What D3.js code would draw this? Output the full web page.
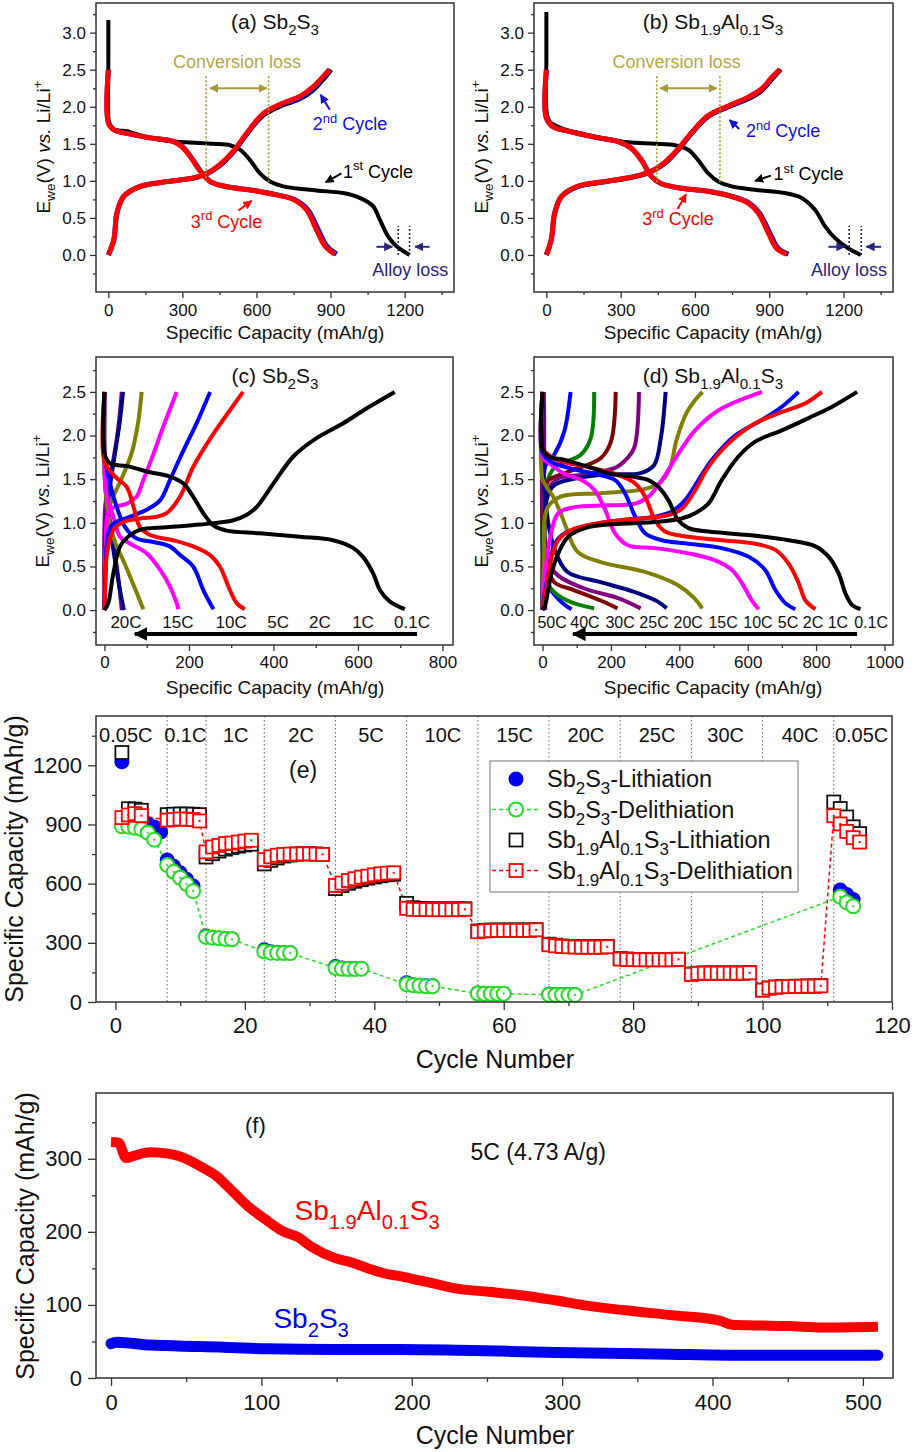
<!DOCTYPE html>
<html>
<head>
<meta charset="utf-8">
<script src="https://cdn.jsdelivr.net/npm/d3@7"></script>
<style>body{margin:0;background:#fff}</style>
</head>
<body>
<script>
const FONT = "'Liberation Sans', Arial, Helvetica, sans-serif";

// ---------- (a) Sb2S3, first three cycles [capacity, voltage] ----------
const aDis1 = [[0,3.17],[0,2.6],[0,1.85],[5,1.76],[15,1.71],[40,1.68],[75,1.67],[143,1.6],[237,1.54],[318,1.52],[426,1.5],[493,1.48],[533,1.42],[574,1.28],[614,1.1],[655,0.99],[708,0.925],[843,0.87],[951,0.835],[1018,0.77],[1072,0.66],[1099,0.48],[1133,0.25],[1166,0.12],[1220,0.0]];
const aChg1 = [[0,0],[22,0.2],[35,0.55],[62,0.78],[129,0.92],[237,0.99],[345,1.03],[399,1.09],[452,1.2],[506,1.38],[560,1.62],[628,1.88],[708,2.02],[776,2.1],[830,2.22],[875,2.38],[903,2.5]];
const aDis2 = [[0,2.5],[0,1.8],[22,1.69],[75,1.64],[170,1.58],[264,1.53],[300,1.46],[333,1.33],[374,1.13],[414,0.99],[482,0.92],[590,0.87],[685,0.81],[752,0.75],[808,0.61],[850,0.34],[885,0.12],[925,0.01]];
const aChg2 = [[0,0],[22,0.2],[35,0.57],[62,0.79],[129,0.925],[237,0.99],[345,1.04],[399,1.1],[452,1.21],[506,1.39],[560,1.63],[628,1.9],[708,2.04],[776,2.12],[830,2.25],[872,2.4],[897,2.5]];
const aDis3 = [[0,2.5],[0,1.78],[22,1.69],[75,1.64],[170,1.58],[264,1.53],[298,1.46],[331,1.33],[372,1.13],[412,0.99],[480,0.92],[587,0.87],[681,0.81],[748,0.75],[802,0.61],[843,0.34],[877,0.12],[917,0.01]];
const aChg3 = [[0,0],[22,0.2],[35,0.57],[62,0.79],[129,0.925],[237,0.99],[345,1.04],[399,1.1],[452,1.22],[506,1.4],[560,1.64],[628,1.91],[708,2.05],[776,2.14],[830,2.27],[870,2.41],[895,2.5]];

// ---------- (b) Sb1.9Al0.1S3 ----------
const bDis1 = [[0,3.28],[0,2.6],[0,1.96],[13,1.8],[61,1.71],[142,1.64],[222,1.58],[330,1.52],[438,1.5],[519,1.48],[573,1.42],[613,1.28],[654,1.1],[694,0.99],[748,0.925],[842,0.88],[964,0.835],[1031,0.77],[1085,0.61],[1125,0.39],[1165,0.23],[1219,0.09],[1270,0]];
const bChg1 = [[0,0],[20,0.21],[34,0.56],[61,0.78],[128,0.92],[236,0.98],[357,1.05],[424,1.12],[478,1.23],[532,1.41],[586,1.63],[653,1.86],[734,1.99],[815,2.1],[869,2.21],[915,2.38],[948,2.5]];
const bDis2 = [[0,2.5],[0,1.85],[27,1.73],[88,1.67],[195,1.59],[290,1.53],[343,1.44],[384,1.28],[424,1.06],[465,0.96],[545,0.9],[653,0.86],[750,0.79],[820,0.7],[860,0.57],[902,0.3],[936,0.09],[978,0.01]];
const bChg2 = [[0,0],[20,0.21],[34,0.57],[61,0.79],[128,0.925],[236,0.99],[357,1.06],[424,1.13],[478,1.24],[532,1.42],[586,1.64],[653,1.87],[734,2.0],[815,2.12],[869,2.23],[909,2.38],[943,2.5]];
const bDis3 = [[0,2.5],[0,1.85],[27,1.73],[88,1.67],[195,1.59],[290,1.53],[343,1.44],[384,1.28],[424,1.06],[465,0.96],[545,0.9],[653,0.86],[747,0.79],[815,0.7],[855,0.57],[896,0.3],[929,0.09],[970,0.01]];
const bChg3 = [[0,0],[20,0.21],[34,0.57],[61,0.79],[128,0.93],[236,0.99],[357,1.06],[424,1.13],[478,1.25],[532,1.43],[586,1.65],[653,1.88],[734,2.01],[815,2.13],[869,2.24],[909,2.39],[943,2.5]];

// ---------- (c) Sb2S3 rate curves ----------
const cRates = ['20C','15C','10C','5C','2C','1C','0.1C'];
const cDis = [
  [[0,2.5],[0,1.8],[2,1.55],[8,1.2],[20,0.8],[32,0.4],[41,0.0]],
  [[0,2.5],[0,1.6],[3,1.35],[12,1.0],[24,0.6],[36,0.25],[46,0.0]],
  [[0,2.5],[0,1.6],[5,1.25],[9,1.09],[25,0.78],[49,0.52],[72,0.25],[92,0.01]],
  [[0,2.5],[0,1.7],[6,1.3],[21,1.07],[37,0.84],[61,0.76],[100,0.65],[132,0.46],[155,0.27],[171,0.08],[175,0.01]],
  [[0,2.5],[0,1.8],[13,1.45],[29,1.18],[49,0.95],[76,0.82],[116,0.78],[155,0.73],[179,0.63],[210,0.5],[234,0.23],[258,0.01]],
  [[0,2.5],[0,1.7],[25,1.53],[53,1.41],[69,1.18],[84,0.95],[108,0.86],[163,0.8],[210,0.73],[250,0.63],[273,0.5],[297,0.23],[313,0.08],[332,0.01]],
  [[0,2.5],[0,1.8],[13,1.68],[53,1.65],[108,1.58],[155,1.53],[187,1.45],[210,1.3],[234,1.11],[258,0.97],[289,0.91],[368,0.88],[463,0.84],[541,0.8],[589,0.71],[612,0.61],[636,0.42],[652,0.23],[675,0.1],[711,0.01]]
];
const cChg = [
  [[0,0],[2,1.2],[10,1.45],[22,1.75],[33,2.1],[41,2.5]],
  [[0,0],[2,0.7],[6,1.1],[14,1.45],[25,1.8],[36,2.15],[44,2.5]],
  [[0,0],[4,0.8],[13,1.2],[41,1.51],[65,1.81],[80,2.16],[88,2.5]],
  [[0,0],[3,0.7],[13,1.15],[53,1.22],[76,1.3],[92,1.49],[116,1.79],[139,2.1],[171,2.5]],
  [[0,0],[3,0.5],[9,0.88],[21,0.99],[61,1.07],[100,1.15],[132,1.26],[155,1.49],[187,1.83],[218,2.14],[250,2.5]],
  [[0,0],[3,0.4],[6,0.65],[21,0.92],[45,1.01],[84,1.05],[124,1.07],[147,1.11],[179,1.3],[210,1.64],[258,2.02],[297,2.29],[328,2.5]],
  [[0,0],[9,0.08],[21,0.42],[37,0.73],[61,0.86],[84,0.92],[147,0.95],[226,0.98],[305,1.03],[336,1.09],[360,1.18],[400,1.45],[447,1.76],[502,1.97],[565,2.14],[620,2.31],[687,2.5]]
];
const cLabelX = [51,174,300,411,510,612,728];

// ---------- (d) Sb1.9Al0.1S3 rate curves ----------
const dRates = ['50C','40C','30C','25C','20C','15C','10C','5C','2C','1C','0.1C'];
const dDis = [
  [[1,2.5],[2,1.9],[5,1.0],[8,0]],
  [[0,2.5],[0,0.7],[5,0.45],[14,0.29],[43,0.14],[72,0.04],[85,0.01]],
  [[0,2.5],[0,0.8],[7,0.5],[24,0.25],[72,0.11],[151,0.02]],
  [[0,2.5],[0,1.0],[7,0.61],[34,0.32],[92,0.23],[170,0.11],[219,0.02]],
  [[0,2.5],[0,1.2],[7,0.8],[34,0.44],[121,0.25],[219,0.14],[287,0.02]],
  [[0,2.5],[0,1.6],[8,1.3],[17,0.99],[34,0.71],[72,0.44],[170,0.32],[268,0.21],[336,0.1],[363,0.02]],
  [[0,2.5],[0,1.5],[14,1.4],[34,1.28],[63,1.01],[102,0.67],[170,0.55],[297,0.44],[394,0.29],[443,0.14],[467,0.02]],
  [[0,2.5],[0,1.75],[20,1.68],[65,1.56],[114,1.49],[153,1.37],[183,1.15],[212,0.88],[251,0.74],[329,0.71],[427,0.65],[505,0.57],[554,0.46],[583,0.31],[612,0.11],[632,0.01]],
  [[0,2.5],[0,1.8],[25,1.7],[85,1.62],[153,1.56],[212,1.49],[241,1.34],[271,1.07],[300,0.88],[349,0.8],[427,0.76],[524,0.71],[603,0.61],[651,0.46],[681,0.23],[710,0.08],[739,0.01]],
  [[0,2.5],[0,1.85],[21,1.77],[56,1.7],[134,1.64],[212,1.56],[271,1.45],[300,1.3],[329,1.03],[358,0.9],[427,0.84],[525,0.8],[622,0.76],[681,0.69],[720,0.53],[749,0.31],[769,0.11],[798,0.01]],
  [[0,2.5],[0,1.85],[17,1.76],[65,1.72],[134,1.64],[202,1.56],[261,1.53],[310,1.49],[339,1.41],[368,1.26],[397,1.03],[427,0.94],[485,0.9],[603,0.86],[720,0.8],[798,0.73],[837,0.61],[866,0.42],[886,0.19],[905,0.06],[930,0.01]]
];
const dChg = [
  [[3,0],[4,1.2],[5,2.0],[4,2.5]],
  [[0,0],[3,1.3],[9,1.66],[34,1.78],[63,2.04],[82,2.5]],
  [[0,0],[4,1.2],[12,1.45],[34,1.63],[112,1.78],[141,1.97],[151,2.5]],
  [[0,0],[4,1.1],[14,1.47],[72,1.58],[170,1.74],[200,1.93],[214,2.5]],
  [[0,0],[4,1.0],[12,1.34],[46,1.51],[121,1.55],[212,1.63],[238,1.7],[268,1.86],[282,2.5]],
  [[0,0],[5,0.8],[13,1.28],[34,1.43],[170,1.55],[287,1.57],[326,1.66],[346,1.97],[360,2.5]],
  [[0,0],[4,0.6],[14,1.17],[53,1.3],[170,1.34],[290,1.38],[340,1.45],[370,1.6],[392,1.95],[420,2.25],[445,2.4],[468,2.5]],
  [[0,0],[5,0.3],[21,0.8],[46,1.11],[95,1.18],[183,1.2],[271,1.22],[310,1.3],[349,1.49],[397,1.79],[446,2.06],[515,2.29],[642,2.5]],
  [[0,0],[5,0.15],[17,0.42],[36,0.76],[65,0.88],[134,0.97],[231,1.03],[329,1.07],[378,1.13],[417,1.26],[456,1.49],[495,1.72],[563,2.0],[642,2.18],[700,2.33],[749,2.5]],
  [[0,0],[5,0.1],[12,0.27],[26,0.6],[46,0.8],[85,0.92],[183,1.01],[290,1.05],[368,1.09],[407,1.16],[446,1.37],[485,1.64],[544,1.91],[622,2.14],[700,2.27],[769,2.37],[817,2.5]],
  [[0,0],[7,0.05],[26,0.42],[46,0.65],[75,0.84],[134,0.95],[231,0.99],[329,1.01],[407,1.05],[446,1.11],[485,1.22],[524,1.49],[573,1.76],[622,1.93],[700,2.06],[778,2.2],[847,2.33],[920,2.5]]
];
const dLabelX = [28,124,227,326,426,528,630,718,791,864,961];

// ---------- (e) rate capability [cycle, mAh/g] ----------
const eRates = ['0.05C','0.1C','1C','2C','5C','10C','15C','20C','25C','30C','40C','0.05C'];
const eRateX = [1.6,10.8,18.6,28.7,39.5,50.6,61.7,72.7,83.7,94.3,105.8,115.3];
const eSeps = [8,14,23,34,45,56,67,78,89,100,111];
const sbLith = [[1,1218],[2,938],[3,922],[4,912],[5,903],[6,887],[7,862],[8,720],[9,688],[10,655],[11,622],[12,588],[14,335],[15,328],[16,325],[17,322],[18,320],[23,265],[24,255],[25,252],[26,250],[27,250],[34,180],[35,172],[36,170],[37,170],[38,170],[45,98],[46,88],[47,85],[48,83],[49,82],[56,46],[57,44],[58,43],[59,43],[60,43],[67,40],[68,38],[69,38],[70,38],[71,38],[112,568],[113,545],[114,520]];
const sbDelith = [[1,891],[2,889],[3,883],[4,876],[5,858],[6,823],[8,694],[9,660],[10,630],[11,598],[12,562],[14,330],[15,326],[16,323],[17,320],[18,318],[23,256],[24,250],[25,249],[26,248],[27,248],[34,172],[35,168],[36,167],[37,167],[38,168],[45,90],[46,85],[47,82],[48,80],[49,80],[56,43],[57,42],[58,42],[59,42],[60,42],[67,37],[68,36],[69,36],[70,36],[71,36],[112,533],[113,505],[114,485]];
const alLith = [[1,1265],[2,980],[3,978],[4,972],[8,950],[9,952],[10,953],[11,953],[12,952],[13,950],[14,735],[15,752],[16,765],[17,775],[18,783],[19,790],[20,796],[21,800],[23,700],[24,718],[25,730],[26,740],[27,745],[28,750],[29,752],[30,752],[31,750],[32,748],[34,575],[35,590],[36,602],[37,612],[38,620],[39,628],[40,634],[41,640],[42,645],[43,648],[45,500],[46,478],[47,474],[48,473],[49,472],[50,472],[51,472],[52,472],[53,472],[54,473],[56,360],[57,363],[58,365],[59,365],[60,365],[61,365],[62,365],[63,365],[64,365],[65,367],[67,293],[68,288],[69,284],[70,282],[71,281],[72,280],[73,280],[74,280],[75,280],[76,282],[78,220],[79,218],[80,216],[81,215],[82,215],[83,215],[84,215],[85,215],[86,215],[87,217],[89,142],[90,146],[91,147],[92,147],[93,147],[94,147],[95,147],[96,147],[97,147],[98,149],[100,61],[101,71],[102,76],[103,78],[104,79],[105,80],[106,80],[107,81],[108,81],[109,83],[111,1014],[112,981],[113,938],[114,888],[115,854]];
const alDelith = [[1,935],[2,948],[3,955],[4,945],[8,922],[9,925],[10,928],[11,927],[12,925],[13,918],[14,761],[15,786],[16,794],[17,803],[18,806],[19,811],[20,816],[21,820],[23,722],[24,736],[25,744],[26,748],[27,750],[28,750],[29,751],[30,751],[31,750],[32,748],[34,591],[35,603],[36,616],[37,625],[38,633],[39,638],[40,645],[41,650],[42,653],[43,655],[45,475],[46,470],[47,469],[48,469],[49,468],[50,468],[51,468],[52,468],[53,468],[54,470],[56,356],[57,360],[58,362],[59,363],[60,363],[61,363],[62,363],[63,363],[64,363],[65,366],[67,290],[68,285],[69,282],[70,280],[71,279],[72,278],[73,278],[74,278],[75,278],[76,280],[78,218],[79,216],[80,215],[81,214],[82,214],[83,214],[84,214],[85,214],[86,214],[87,216],[89,140],[90,145],[91,146],[92,146],[93,146],[94,146],[95,146],[96,146],[97,146],[98,148],[100,60],[101,70],[102,75],[103,77],[104,78],[105,79],[106,79],[107,80],[108,80],[109,82],[111,944],[112,903],[113,865],[114,833],[115,811]];

// ---------- (f) long cycling at 5C [cycle, mAh/g] ----------
const fAl = [[0,323],[5,322],[10,301],[15,304],[26,309],[38,307],[46,303],[60,289],[69,278],[80,257],[91,235],[102,218],[115,200],[124,193],[133,180],[149,164],[160,158],[171,150],[182,143],[193,139],[204,134],[215,129],[231,122],[251,118],[274,113],[296,106],[313,100],[340,93],[373,86],[404,79],[413,73],[428,72],[451,71],[473,69],[510,70]];
const fSb = [[0,47],[4,49],[26,45],[60,43],[104,40],[148,39],[193,39],[231,38],[296,35],[362,33],[429,31],[510,31]];

// ---------- drawing ----------
const svg = d3.select('body').append('svg')
  .attr('width', 915).attr('height', 1452)
  .style('font-family', FONT).style('background', '#fff');

const defs = svg.append('defs');
const head = (id, color, size) => defs.append('marker').attr('id', id)
  .attr('viewBox', '0 0 10 10').attr('refX', 9).attr('refY', 5)
  .attr('markerWidth', size).attr('markerHeight', size)
  .attr('markerUnits', 'userSpaceOnUse').attr('orient', 'auto-start-reverse')
  .append('path').attr('d', 'M0,0 L10,5 L0,10 z').attr('fill', color);
head('hBlue', '#1010e0', 9);
head('hBlack', '#000', 9);
head('hRed', '#ff0000', 9);
head('hOlive', '#a89a3a', 9);
head('hNavy', '#262680', 9);
head('hBig', '#000', 14);

// text with _{sub}, ^{sup} and *{italic} parts
const rich = (sel, str, fs) => {
  const re = /([_^])\{([^}]*)\}|\*\{([^}]*)\}|([^_^*]+)/g;
  let m, cur = 0;
  while ((m = re.exec(str)) !== null) {
    let off = 0, size = fs, txt, it = false;
    if (m[1]) { txt = m[2]; size = fs * 0.72; off = m[1] === '_' ? fs * 0.3 : -fs * 0.42; }
    else if (m[3]) { txt = m[3]; it = true; }
    else txt = m[4];
    const ts = sel.append('tspan').attr('dy', off - cur).attr('font-size', size).text(txt);
    if (it) ts.attr('font-style', 'italic');
    cur = off;
  }
  return sel;
};

const label = (g, x, y, str, fs, anchor = 'middle', color = '#111') =>
  rich(g.append('text').attr('x', x).attr('y', y).attr('text-anchor', anchor)
    .attr('fill', color).attr('font-size', fs), str, fs);

const vlabel = (cx, cy, str, fs) =>
  rich(svg.append('text').attr('transform', `translate(${cx + fs * 0.35},${cy}) rotate(-90)`)
    .attr('text-anchor', 'middle').attr('fill', '#111').attr('font-size', fs), str, fs);

const makePanel = (o) => {
  const x = d3.scaleLinear().domain(o.xd).range([o.l, o.r]);
  const y = d3.scaleLinear().domain(o.yd).range([o.b, o.t]);
  const g = svg.append('g');
  const ax = g.append('g').attr('transform', `translate(0,${o.b})`);
  ax.call(d3.axisBottom(x).tickValues(o.xMin).tickSize(o.tk / 2).tickFormat(''));
  ax.append('g').call(d3.axisBottom(x).tickValues(o.xMaj).tickSize(o.tk).tickPadding(o.px).tickFormat(o.xf));
  const ay = g.append('g').attr('transform', `translate(${o.l},0)`);
  ay.call(d3.axisLeft(y).tickValues(o.yMin).tickSize(o.tk / 2).tickFormat(''));
  ay.append('g').call(d3.axisLeft(y).tickValues(o.yMaj).tickSize(o.tk).tickPadding(o.py).tickFormat(o.yf));
  g.selectAll('.domain').remove();
  g.selectAll('.tick line').attr('stroke', '#333').attr('stroke-width', 1.3);
  g.selectAll('.tick text').attr('font-size', o.fs).attr('font-family', FONT).attr('fill', '#111');
  const plot = g.append('g');
  g.append('rect').attr('x', o.l).attr('y', o.t).attr('width', o.r - o.l).attr('height', o.b - o.t)
    .attr('fill', 'none').attr('stroke', '#333').attr('stroke-width', 1.5);
  const line = d3.line().x(d => x(d[0])).y(d => y(d[1])).curve(d3.curveCatmullRom.alpha(0.5));
  return { x, y, g: plot, line };
};

const f1 = d3.format('.1f');
const range = (a, b, s) => d3.range(a, b + s / 2, s);

// ----- panels (a) and (b) -----
const abCfg = (l, r) => ({
  l, r, t: 3, b: 292, xd: [-50, 1400], yd: [-0.5, 3.4],
  xMaj: range(0, 1200, 300), xMin: range(150, 1350, 300),
  yMaj: range(0, 3, 0.5), yMin: range(-0.25, 3.25, 0.5),
  tk: 6, px: 6, py: 4, fs: 17, xf: d3.format('d'), yf: f1
});

const drawCycles = (p, sets) => {
  sets.forEach(([dis, chg, color, w]) => {
    [dis, chg].forEach(d => p.g.append('path').attr('d', p.line(d)).attr('fill', 'none')
      .attr('stroke', color).attr('stroke-width', w).attr('stroke-linejoin', 'round'));
  });
};

const annotate = (p, o) => {
  const g = p.g;
  o.conv.forEach(c => g.append('line').attr('x1', p.x(c)).attr('x2', p.x(c))
    .attr('y1', p.y(2.41)).attr('y2', p.y(o.convLow)).attr('stroke', '#a89a3a')
    .attr('stroke-width', 1.6).attr('stroke-dasharray', '2,2'));
  g.append('line').attr('x1', p.x(o.convArrow[0])).attr('x2', p.x(o.convArrow[1]))
    .attr('y1', p.y(2.25)).attr('y2', p.y(2.25)).attr('stroke', '#a89a3a').attr('stroke-width', 2)
    .attr('marker-start', 'url(#hOlive)').attr('marker-end', 'url(#hOlive)');
  label(g, p.x(o.convText[0]), p.y(o.convText[1]), 'Conversion loss', 18, 'middle', '#b5a642');
  o.alloy.forEach(c => g.append('line').attr('x1', p.x(c)).attr('x2', p.x(c))
    .attr('y1', p.y(0)).attr('y2', p.y(0.39)).attr('stroke', '#262680')
    .attr('stroke-width', 1.6).attr('stroke-dasharray', '2,2'));
  o.alloyArrows.forEach(([a, b]) => g.append('line').attr('x1', p.x(a)).attr('x2', p.x(b))
    .attr('y1', p.y(0.11)).attr('y2', p.y(0.11)).attr('stroke', '#262680').attr('stroke-width', 2)
    .attr('marker-end', 'url(#hNavy)'));
  label(g, p.x(o.alloyText[0]), p.y(o.alloyText[1]), 'Alloy loss', 18, 'start', '#262680');
  o.cyc.forEach(([str, tx, ty, ax1, ay1, ax2, ay2, color, mk]) => {
    label(g, p.x(tx), p.y(ty), str, 18, 'start', color);
    g.append('line').attr('x1', p.x(ax1)).attr('y1', p.y(ay1)).attr('x2', p.x(ax2)).attr('y2', p.y(ay2))
      .attr('stroke', color).attr('stroke-width', 2).attr('marker-end', `url(#${mk})`);
  });
};

const pa = makePanel(abCfg(96, 454));
drawCycles(pa, [[aDis1, aChg1, '#000', 4], [aDis2, aChg2, '#1010e0', 5], [aDis3, aChg3, '#ff0000', 5]]);
annotate(pa, {
  conv: [396, 649], convLow: 0.97, convArrow: [412, 641], convText: [521, 2.52],
  alloy: [1174, 1220], alloyArrows: [[1086, 1150], [1301, 1243]], alloyText: [1069, -0.28],
  cyc: [
    ['2^{nd} Cycle', 828, 1.68, 897, 1.96, 860, 2.16, '#1010e0', 'hBlue'],
    ['1^{st} Cycle', 950, 1.04, 944, 1.1, 880, 0.98, '#000', 'hBlack'],
    ['3^{rd} Cycle', 334, 0.37, 527, 0.6, 580, 0.73, '#ff0000', 'hRed']
  ]
});
label(svg, 275, 29, '(a) Sb_{2}S_{3}', 21);
label(svg, 275, 339, 'Specific Capacity (mAh/g)', 19);
vlabel(43, 147, 'E_{we}(V) *{vs.} Li/Li^{+}', 19);

const pb = makePanel(abCfg(534, 893));
drawCycles(pb, [[bDis1, bChg1, '#000', 4], [bDis2, bChg2, '#1010e0', 5], [bDis3, bChg3, '#ff0000', 5]]);
annotate(pb, {
  conv: [446, 701], convLow: 0.97, convArrow: [459, 688], convText: [526, 2.52],
  alloy: [1223, 1272], alloyArrows: [[1139, 1204], [1352, 1293]], alloyText: [1069, -0.28],
  cyc: [
    ['2^{nd} Cycle', 806, 1.59, 779, 1.7, 740, 1.82, '#1010e0', 'hBlue'],
    ['1^{st} Cycle', 917, 1.01, 907, 1.07, 843, 1.0, '#000', 'hBlack'],
    ['3^{rd} Cycle', 387, 0.4, 530, 0.62, 564, 0.82, '#ff0000', 'hRed']
  ]
});
label(svg, 713, 29, '(b) Sb_{1.9}Al_{0.1}S_{3}', 21);
label(svg, 713, 339, 'Specific Capacity (mAh/g)', 19);
vlabel(481, 147, 'E_{we}(V) *{vs.} Li/Li^{+}', 19);

// ----- panels (c) and (d) -----
const cdCfg = (l, r, xd, xMaj, xMin) => ({
  l, r, t: 357, b: 645, xd, yd: [-0.4, 2.9], xMaj, xMin,
  yMaj: range(0, 2.5, 0.5), yMin: range(-0.25, 2.75, 0.5),
  tk: 6, px: 5, py: 4, fs: 17, xf: d3.format('d'), yf: f1
});

const drawRates = (p, dis, chg, colors, w) => {
  dis.forEach((d, i) => {
    [d, chg[i]].forEach(s => p.g.append('path').attr('d', p.line(s)).attr('fill', 'none')
      .attr('stroke', colors[i]).attr('stroke-width', w).attr('stroke-linejoin', 'round'));
  });
};

const pc = makePanel(cdCfg(96, 453, [-20, 825], range(0, 800, 200), range(100, 700, 200)));
drawRates(pc, cDis, cChg, ['#800080', '#000080', '#808000', '#ff00ff', '#0000ff', '#ff0000', '#000'], 4);
cRates.forEach((r, i) => label(pc.g, pc.x(cLabelX[i]), pc.y(-0.21), r, 17));
pc.g.append('line').attr('x1', pc.x(740)).attr('x2', pc.x(72)).attr('y1', pc.y(-0.275)).attr('y2', pc.y(-0.275))
  .attr('stroke', '#000').attr('stroke-width', 4).attr('marker-end', 'url(#hBig)');
label(svg, 275, 383, '(c) Sb_{2}S_{3}', 21);
label(svg, 275, 694, 'Specific Capacity (mAh/g)', 19);
vlabel(42, 501, 'E_{we}(V) *{vs.} Li/Li^{+}', 19);

const pd = makePanel(cdCfg(534, 893, [-25, 1025], range(0, 1000, 200), range(100, 900, 200)));
drawRates(pd, dDis, dChg, ['#800080', '#0000ff', '#008000', '#800000', '#800080', '#000080', '#808000', '#ff00ff', '#0000ff', '#ff0000', '#000'], 4);
dRates.forEach((r, i) => label(pd.g, pd.x(dLabelX[i]), pd.y(-0.21), r, 16));
pd.g.append('line').attr('x1', pd.x(920)).attr('x2', pd.x(89)).attr('y1', pd.y(-0.275)).attr('y2', pd.y(-0.275))
  .attr('stroke', '#000').attr('stroke-width', 4).attr('marker-end', 'url(#hBig)');
label(svg, 713, 383, '(d) Sb_{1.9}Al_{0.1}S_{3}', 21);
label(svg, 713, 694, 'Specific Capacity (mAh/g)', 19);
vlabel(481, 501, 'E_{we}(V) *{vs.} Li/Li^{+}', 19);

// ----- panel (e) -----
const pe = makePanel({
  l: 96, r: 892, t: 716, b: 1002, xd: [-3, 120], yd: [0, 1450],
  xMaj: range(0, 120, 20), xMin: range(10, 110, 20),
  yMaj: range(0, 1200, 300), yMin: range(150, 1350, 300),
  tk: 8, px: 7, py: 6, fs: 22, xf: d3.format('d'), yf: d3.format('d')
});
eSeps.forEach(c => pe.g.append('line').attr('x1', pe.x(c)).attr('x2', pe.x(c))
  .attr('y1', 716).attr('y2', 1002).attr('stroke', '#666').attr('stroke-width', 1)
  .attr('stroke-dasharray', '1.5,2.5'));
eRates.forEach((r, i) => label(pe.g, pe.x(eRateX[i]), pe.y(1318), r, 20));
label(pe.g, pe.x(29), pe.y(1136), '(e)', 23);

const straight = d3.line().x(d => pe.x(d[0])).y(d => pe.y(d[1]));
pe.g.append('path').attr('d', straight(alDelith)).attr('fill', 'none').attr('stroke', '#ff0000')
  .attr('stroke-width', 1.5).attr('stroke-dasharray', '4,3');
pe.g.append('path').attr('d', straight(sbDelith)).attr('fill', 'none').attr('stroke', '#22dd22')
  .attr('stroke-width', 1.5).attr('stroke-dasharray', '4,3');

const GREEN = '#22dd22';
const square = (g, cx, cy, color, dot) => {
  g.append('rect').attr('x', cx - 6.5).attr('y', cy - 6.5).attr('width', 13).attr('height', 13)
    .attr('fill', '#fff').attr('stroke', color).attr('stroke-width', 1.8);
  if (dot) g.append('rect').attr('x', cx - 1).attr('y', cy - 1).attr('width', 2).attr('height', 2).attr('fill', color);
};
const circle = (g, cx, cy, filled) => {
  if (filled) g.append('circle').attr('cx', cx).attr('cy', cy).attr('r', 7.5).attr('fill', '#0000ee');
  else {
    g.append('circle').attr('cx', cx).attr('cy', cy).attr('r', 7).attr('fill', '#fff')
      .attr('stroke', GREEN).attr('stroke-width', 2);
    g.append('circle').attr('cx', cx).attr('cy', cy).attr('r', 1.1).attr('fill', GREEN);
  }
};
sbLith.forEach(d => circle(pe.g, pe.x(d[0]), pe.y(d[1]), true));
sbDelith.forEach(d => circle(pe.g, pe.x(d[0]), pe.y(d[1]), false));
alLith.forEach(d => square(pe.g, pe.x(d[0]), pe.y(d[1]), '#111', false));
alDelith.forEach(d => square(pe.g, pe.x(d[0]), pe.y(d[1]), '#ff0000', true));

// legend
const lg = svg.append('g');
lg.append('rect').attr('x', 490).attr('y', 761).attr('width', 308).attr('height', 131)
  .attr('fill', '#fff').attr('stroke', '#888').attr('stroke-width', 1.2);
const legendRows = ['Sb_{2}S_{3}-Lithiation', 'Sb_{2}S_{3}-Delithiation', 'Sb_{1.9}Al_{0.1}S_{3}-Lithiation', 'Sb_{1.9}Al_{0.1}S_{3}-Delithiation'];
legendRows.forEach((t, i) => {
  const cy = 779 + i * 30.5;
  if (i === 1 || i === 3) lg.append('line').attr('x1', 492).attr('x2', 541).attr('y1', cy).attr('y2', cy)
    .attr('stroke', i === 1 ? GREEN : '#ff0000').attr('stroke-width', 1.5).attr('stroke-dasharray', '4,3');
  if (i === 0) circle(lg, 516, cy, true);
  if (i === 1) circle(lg, 516, cy, false);
  if (i === 2) square(lg, 516, cy, '#111', false);
  if (i === 3) square(lg, 516, cy, '#ff0000', true);
  label(lg, 547, cy + 8, t, 23.5, 'start');
});
label(svg, 495, 1068, 'Cycle Number', 25);
vlabel(14, 859, 'Specific Capacity (mAh/g)', 25);

// ----- panel (f) -----
const pf = makePanel({
  l: 96, r: 893, t: 1093, b: 1378, xd: [-10, 520], yd: [0, 390],
  xMaj: range(0, 500, 100), xMin: range(50, 450, 100),
  yMaj: range(0, 300, 100), yMin: range(50, 350, 100),
  tk: 8, px: 8, py: 6, fs: 22, xf: d3.format('d'), yf: d3.format('d')
});
const flat = d3.line().x(d => pf.x(d[0])).y(d => pf.y(d[1])).curve(d3.curveMonotoneX);
pf.g.append('path').attr('d', flat(fSb)).attr('fill', 'none').attr('stroke', '#0000ee')
  .attr('stroke-width', 11).attr('stroke-linecap', 'round');
pf.g.append('path').attr('d', flat(fAl)).attr('fill', 'none').attr('stroke', '#ff0000')
  .attr('stroke-width', 10).attr('stroke-linejoin', 'round');
label(pf.g, pf.x(96), pf.y(335), '(f)', 22);
label(pf.g, pf.x(239), pf.y(298), '5C (4.73 A/g)', 23, 'start');
label(pf.g, pf.x(122), pf.y(216), 'Sb_{1.9}Al_{0.1}S_{3}', 28, 'start', '#ff0000');
label(pf.g, pf.x(108), pf.y(68), 'Sb_{2}S_{3}', 28, 'start', '#0000ee');
label(svg, 495, 1444, 'Cycle Number', 25);
vlabel(25, 1236, 'Specific Capacity (mAh/g)', 25);
</script>
</body>
</html>
